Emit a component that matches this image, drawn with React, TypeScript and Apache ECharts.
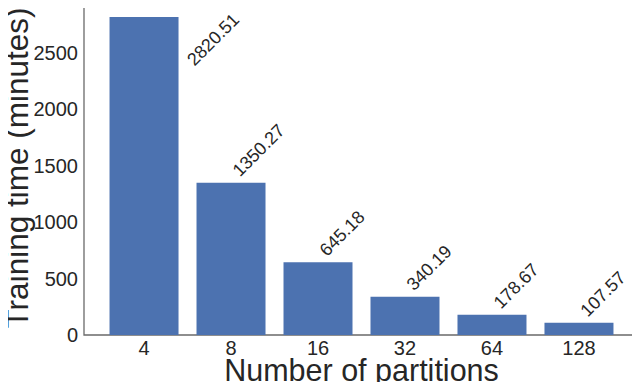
import React, { useEffect, useRef } from "react";
import * as echarts from "echarts";

const categories = ["4", "8", "16", "32", "64", "128"];
const trainingMinutes = [2820.51, 1350.27, 645.18, 340.19, 178.67, 107.57];
const yTicks = [0, 500, 1000, 1500, 2000, 2500];

const TEXT = "#262626";
const FRAME = "#6a6a6a";
const FONT = "'Liberation Sans', Arial, sans-serif";

export default function App() {
  const ref = useRef<HTMLDivElement>(null);
  useEffect(() => {
    if (!ref.current) return;
    const chart = echarts.init(ref.current, undefined, { renderer: "svg" });
    const data = trainingMinutes.map((v, i) => {
      const item: any = { value: [i, v] };
      if (i === 0) item.label = { position: [87, 52] };
      return item;
    });
    chart.setOption({
      animation: false,
      textStyle: { fontFamily: FONT, color: TEXT },
      grid: {
        left: 84,
        right: 1,
        top: 1,
        bottom: 55,
        outerBoundsMode: "none",
        containLabel: false,
        show: true,
        borderColor: FRAME,
        borderWidth: 1.3,
      },
      xAxis: [
        {
          type: "value",
          min: -0.69,
          max: 5.69,
          axisLine: { show: false },
          axisTick: { show: false },
          splitLine: { show: false },
          axisLabel: {
            customValues: categories.map((_, i) => i),
            formatter: (v: number) => {
              const r = Math.round(v);
              return Math.abs(v - r) < 1e-6 && categories[r] !== undefined ? categories[r] : "";
            },
            fontSize: 20,
            color: TEXT,
            fontFamily: FONT,
            margin: 3,
          },
          name: "Number of partitions",
          nameLocation: "middle",
          nameGap: 19,
          nameMoveOverlap: false,
          nameTextStyle: { fontSize: 30.5, color: TEXT, fontFamily: FONT },
        },
      ],
      yAxis: [
        {
          type: "value",
          min: 0,
          max: 2961.5,
          interval: 500,
          axisLine: { show: false },
          axisTick: { show: false },
          splitLine: { show: false },
          axisLabel: {
            customValues: yTicks,
            formatter: (v: number) => (yTicks.includes(v) ? String(v) : ""),
            fontSize: 20,
            color: TEXT,
            fontFamily: FONT,
            margin: 6,
          },
          name: "Training time (minutes)",
          nameLocation: "middle",
          nameGap: 51,
          nameMoveOverlap: false,
          nameTextStyle: { fontSize: 31.5, color: TEXT, fontFamily: FONT },
        },
      ],
      series: [
        {
          type: "bar",
          data,
          barWidth: 69,
          itemStyle: { color: "#4c72b0" },
          label: {
            show: true,
            position: [45.5, -3],
            rotate: 45,
            align: "left",
            verticalAlign: "bottom",
            fontSize: 18,
            color: TEXT,
            fontFamily: FONT,
            formatter: (p: any) => p.value[1].toFixed(2),
          },
        },
      ],
    });
    return () => chart.dispose();
  }, []);
  return <div ref={ref} style={{ width: 640, height: 390, margin: -8 }} />;
}
